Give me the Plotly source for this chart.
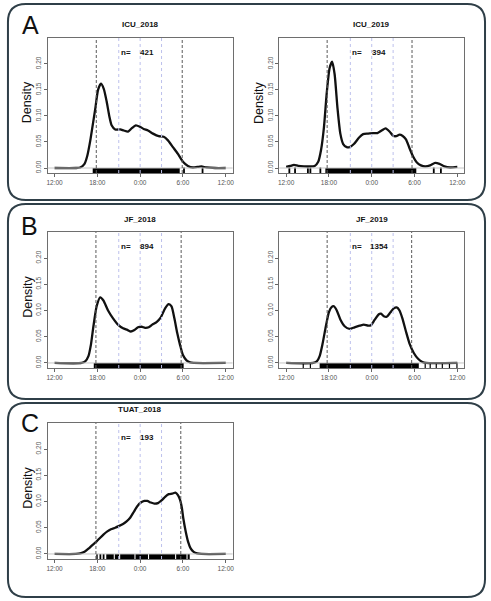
import plotly.graph_objects as go

# ------------------------------------------------------------
# Données : heures depuis midi (0 = 12:00, 12 = 0:00, 24 = 12:00)
# ------------------------------------------------------------
panel_names = ["ICU_2018", "ICU_2019", "JF_2018", "JF_2019", "TUAT_2018"]
panel_n = [421, 394, 894, 1354, 193]

hours_icu18 = [0, 3.0, 3.6, 4.2, 4.6, 5.0, 5.3, 5.7, 6.1, 6.5, 6.9, 7.3, 7.7, 8.0, 8.5,
               9.2, 9.7, 10.3, 10.8, 11.4, 12.0, 12.5, 13.1, 13.8, 14.6, 15.3, 15.9,
               16.6, 17.3, 18.0, 18.7, 19.4, 20.0, 20.6, 21.3, 22.5, 24]
dens_icu18 = [0, 0, 0.001, 0.008, 0.024, 0.052, 0.078, 0.113, 0.150, 0.162, 0.152, 0.128,
              0.098, 0.082, 0.074, 0.074, 0.072, 0.070, 0.076, 0.082, 0.079, 0.075, 0.072,
              0.066, 0.061, 0.060, 0.053, 0.040, 0.027, 0.012, 0.004, 0.001, 0.002, 0.003,
              0.001, 0, 0]

hours_icu19 = [0, 0.6, 1.1, 1.7, 2.5, 3.3, 4.0, 4.5, 4.9, 5.3, 5.7, 6.1, 6.45, 6.8, 7.2,
               7.6, 8.0, 8.5, 8.9, 9.5, 10.2, 10.8, 11.5, 12.2, 12.8, 13.4, 13.95, 14.5,
               15.0, 15.4, 15.9, 16.3, 16.8, 17.3, 17.8, 18.3, 18.9, 19.5, 20.2, 20.9,
               21.5, 22.2, 23.0, 24]
dens_icu19 = [0.002, 0.004, 0.006, 0.004, 0.003, 0.003, 0.004, 0.012, 0.035, 0.078, 0.145,
              0.192, 0.204, 0.180, 0.115, 0.066, 0.046, 0.040, 0.040, 0.046, 0.058, 0.065,
              0.066, 0.067, 0.067, 0.072, 0.076, 0.070, 0.062, 0.061, 0.064, 0.062, 0.055,
              0.038, 0.022, 0.011, 0.005, 0.003, 0.005, 0.010, 0.008, 0.003, 0.001, 0.002]

hours_jf18 = [0, 3.8, 4.3, 4.75, 5.1, 5.45, 5.9, 6.4, 6.85, 7.5, 8.2, 8.9, 9.6, 10.2,
              10.7, 11.2, 11.7, 12.2, 12.7, 13.2, 13.7, 14.3, 14.9, 15.5, 16.0, 16.4,
              16.8, 17.2, 17.6, 18.0, 18.5, 19.0, 19.5, 24]
dens_jf18 = [0, 0, 0.003, 0.013, 0.035, 0.070, 0.108, 0.125, 0.119, 0.100, 0.085, 0.073,
             0.066, 0.063, 0.060, 0.063, 0.068, 0.069, 0.067, 0.068, 0.073, 0.078, 0.087,
             0.104, 0.112, 0.108, 0.085, 0.057, 0.034, 0.015, 0.005, 0.001, 0, 0]

hours_jf19 = [0, 3.8, 4.3, 4.7, 5.1, 5.5, 6.0, 6.4, 6.7, 7.1, 7.6, 8.2, 8.9, 9.6, 10.3,
              10.9, 11.5, 11.9, 12.4, 13.0, 13.3, 13.7, 14.1, 14.6, 15.1, 15.5, 15.9,
              16.3, 16.8, 17.3, 17.9, 18.5, 19.1, 19.6, 24]
dens_jf19 = [0, 0, 0.003, 0.013, 0.036, 0.065, 0.097, 0.107, 0.108, 0.100, 0.083, 0.070,
             0.065, 0.068, 0.071, 0.073, 0.071, 0.072, 0.082, 0.093, 0.094, 0.089, 0.088,
             0.096, 0.104, 0.106, 0.100, 0.085, 0.060, 0.037, 0.019, 0.008, 0.002, 0, 0]

hours_tuat18 = [0, 3.0, 3.6, 4.2, 4.75, 5.3, 5.9, 6.4, 6.85, 7.4, 7.9, 8.5, 9.0, 9.6,
                10.1, 10.6, 11.1, 11.6, 12.1, 12.6, 13.0, 13.5, 14.0, 14.5, 15.0, 15.5,
                16.0, 16.5, 16.95, 17.3, 17.6, 17.85, 18.05, 18.4, 18.75, 19.1, 19.5,
                20.0, 20.6, 24]
dens_tuat18 = [0, 0, 0.001, 0.004, 0.010, 0.017, 0.024, 0.031, 0.037, 0.043, 0.047, 0.050,
               0.053, 0.057, 0.062, 0.069, 0.080, 0.091, 0.098, 0.101, 0.101, 0.098, 0.096,
               0.097, 0.102, 0.109, 0.114, 0.115, 0.117, 0.112, 0.103, 0.088, 0.068, 0.042,
               0.022, 0.010, 0.004, 0.001, 0, 0]

# rug : intervalles denses + traits isolés
rug_bands = [
    [[5.35, 17.55]],
    [[5.5, 18.25]],
    [[5.5, 18.1]],
    [[4.7, 18.6]],
    [[5.85, 6.05], [6.3, 6.55], [6.75, 7.0], [7.25, 8.3], [8.45, 9.05], [9.2, 11.2],
     [11.35, 13.1], [13.25, 16.9], [17.05, 18.5], [18.65, 18.95]],
]
rug_ticks = [
    [18.15, 20.75],
    [0.45, 1.25, 3.05, 3.4, 4.8, 20.7, 21.7],
    [],
    [2.4, 3.4, 19.5, 20.2, 21.05, 21.9, 22.9, 23.95],
    [],
]

# coucher / lever du soleil et repères 21:00, 0:00, 3:00
sunset = [5.85, 5.75, 5.8, 5.75, 5.8]
sunrise = [17.9, 17.65, 17.75, 17.6, 17.7]
night_marks = [9, 12, 15]

x_tickvals = [0, 6, 12, 18, 24]
x_ticktext = ["12:00", "18:00", "0:00", "6:00", "12:00"]
y_tickvals = [0, 0.05, 0.10, 0.15, 0.20]

hours = [hours_icu18, hours_icu19, hours_jf18, hours_jf19, hours_tuat18]
dens = [dens_icu18, dens_icu19, dens_jf18, dens_jf19, dens_tuat18]

# ------------------------------------------------------------
# Mise en page (pixels -> coordonnées papier)
# ------------------------------------------------------------
W, H = 491, 601
boxes = [(47, 38, 233, 173), (280, 38, 466, 173),
         (47, 232, 233, 368), (280, 232, 466, 368),
         (47, 423, 233, 559)]
show_ylab = [True, True, True, False, True]
FONT = "Liberation Sans, Arial, sans-serif"


def px(x):
    return x / W


def py(y):
    return 1 - y / H


def rounded(x0, y0, x1, y1, r):
    p = [("M", x0 + r, y0), ("L", x1 - r, y0), ("Q", x1, y0, x1, y0 + r),
         ("L", x1, y1 - r), ("Q", x1, y1, x1 - r, y1), ("L", x0 + r, y1),
         ("Q", x0, y1, x0, y1 - r), ("L", x0, y0 + r), ("Q", x0, y0, x0 + r, y0)]
    out = ""
    for seg in p:
        cmd, vals = seg[0], seg[1:]
        pts = [f"{px(vals[i]):.5f},{py(vals[i + 1]):.5f}" for i in range(0, len(vals), 2)]
        out += cmd + " " + " ".join(pts) + " "
    return out + "Z"


def label(text, x, y, size, **kw):
    return dict(text=text, x=x, y=y, showarrow=False, xanchor="center",
                yanchor="middle", font=dict(family=FONT, size=size, color="#111"), **kw)


fig = go.Figure()
shapes = []
annotations = []
layout = {}

for i, name in enumerate(panel_names):
    sfx = "" if i == 0 else str(i + 1)
    xa, ya = "x" + sfx, "y" + sfx
    x0, y0, x1, y1 = boxes[i]

    layout["xaxis" + sfx] = dict(
        domain=[px(x0), px(x1)], anchor=ya, range=[-0.96, 24.96],
        tickvals=x_tickvals, ticktext=x_ticktext, ticks="outside", ticklen=3,
        tickcolor="#666", showline=True, mirror=True, linecolor="#6e6e6e",
        linewidth=1, showgrid=False, zeroline=False,
        tickfont=dict(family=FONT, size=6.5, color="#555"))
    layout["yaxis" + sfx] = dict(
        domain=[py(y1), py(y0)], anchor=xa, range=[-0.0096, 0.2496],
        tickvals=y_tickvals, tickformat=".2f", tickangle=-90, ticks="outside",
        ticklen=3, tickcolor="#666", showline=True, mirror=True,
        linecolor="#6e6e6e", linewidth=1, showgrid=False, zeroline=False,
        tickfont=dict(family=FONT, size=6.5, color="#555"))

    # ligne zéro grise
    shapes.append(dict(type="line", xref=xa + " domain", yref=ya, x0=0, x1=1,
                       y0=0, y1=0, line=dict(color="#c4c4c4", width=1)))
    # repères nocturnes bleus
    for m in night_marks:
        shapes.append(dict(type="line", xref=xa, yref=ya + " domain", x0=m, x1=m,
                           y0=0, y1=1, line=dict(color="#bcc0ec", width=1, dash="dot")))
    # coucher / lever
    for s in (sunset[i], sunrise[i]):
        shapes.append(dict(type="line", xref=xa, yref=ya + " domain", x0=s, x1=s,
                           y0=0, y1=1, line=dict(color="#5a5a5a", width=1, dash="3px,2px")))

    # courbe de densité
    fig.add_trace(go.Scatter(x=hours[i], y=dens[i], mode="lines", xaxis=xa, yaxis=ya,
                             line=dict(color="#111", width=2.3, shape="spline",
                                       smoothing=0.6),
                             hoverinfo="x+y"))

    # rug : bandes
    bx, by = [], []
    for a, b in rug_bands[i]:
        bx += [a, b, None]
        by += [-0.0048, -0.0048, None]
    fig.add_trace(go.Scatter(x=bx, y=by, mode="lines", xaxis=xa, yaxis=ya,
                             line=dict(color="#000", width=5), hoverinfo="skip"))
    # rug : traits isolés
    tx, ty = [], []
    for t in rug_ticks[i]:
        tx += [t, t, None]
        ty += [-0.0096, 0.0008, None]
    if tx:
        fig.add_trace(go.Scatter(x=tx, y=ty, mode="lines", xaxis=xa, yaxis=ya,
                                 line=dict(color="#000", width=1.8 if i != 3 else 1.2),
                                 hoverinfo="skip"))

    # titre
    annotations.append(label("<b>" + name + "</b>", px((x0 + x1) / 2), py(y0 - 13), 8,
                             xref="paper", yref="paper"))
    # n=
    annotations.append(label("<b>n=</b>", 10.0, 0.222, 8, xref=xa, yref=ya))
    annotations.append(label("<b>" + str(panel_n[i]) + "</b>", 13.0, 0.222, 8,
                             xref=xa, yref=ya))
    # Density
    if show_ylab[i]:
        annotations.append(label("Density", px(x0 - 20), py((y0 + y1) / 2 - 3), 12.5,
                                 xref="paper", yref="paper", textangle=-90))

# cadres arrondis des panneaux A, B, C
frames = [(7, 4, 487, 200), (7, 204, 487, 399), (7, 403, 487, 597)]
for f in frames:
    shapes.append(dict(type="path", xref="paper", yref="paper", path=rounded(*f, 18),
                       line=dict(color="#2f3f48", width=2)))

letters = [("A", 30, 25), ("B", 29, 226), ("C", 29, 423)]
for t, lx, ly in letters:
    annotations.append(label(t, px(lx), py(ly), 25, xref="paper", yref="paper"))

fig.update_layout(
    width=W, height=H, margin=dict(l=0, r=0, t=0, b=0),
    paper_bgcolor="white", plot_bgcolor="white", showlegend=False,
    shapes=shapes, annotations=annotations, **layout)

fig.write_html("out.html", config={"displayModeBar": False},
               post_script="document.body.style.margin='0';"
                           "document.body.style.overflow='hidden';")
